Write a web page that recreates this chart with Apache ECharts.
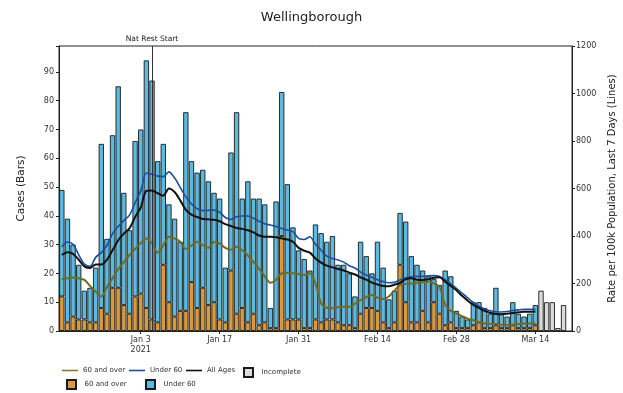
<!DOCTYPE html>
<html><head><meta charset="utf-8">
<script src="https://cdn.jsdelivr.net/npm/echarts@6/dist/echarts.min.js"></script>
<style>html,body{margin:0;padding:0;background:#fff}#c{width:623px;height:393px}</style>
</head><body><div id="c"></div>
<script>
// ---- data ----
const MONTHS = ['Jan','Feb','Mar','Apr','May','Jun','Jul','Aug','Sep','Oct','Nov','Dec'];
const firstDay = [2020, 11, 20]; // 20 Dec 2020
const dayCount = 91;             // 20 Dec 2020 .. 20 Mar 2021 (last slot empty)
const categories = [];
for (let i = 0; i < dayCount; i++) {
  const d = new Date(firstDay[0], firstDay[1], firstDay[2] + i);
  categories.push(MONTHS[d.getMonth()] + ' ' + d.getDate());
}
const tickLabels = {'Jan 3':'Jan 3\n2021','Jan 17':'Jan 17','Jan 31':'Jan 31','Feb 14':'Feb 14','Feb 28':'Feb 28','Mar 14':'Mar 14'};
const natRestStart = 'Jan 5';

// cases, 60 and over (bars, bottom)
const over60 = [12,3,5,4,4,3,3,8,6,15,
  15,9,6,12,13,8,4,3,23,10,
  5,7,7,17,8,15,9,10,4,3,
  21,6,8,3,6,2,3,1,1,33,
  4,4,4,1,1,4,3,4,4,3,
  2,2,1,6,8,8,7,3,1,3,
  23,10,3,3,7,3,10,6,2,3,
  1,1,1,2,3,1,1,2,1,1,
  2,1,1,1,2];
// cases, under 60 (bars, top)
const under60 = [37,36,25,19,10,12,19,57,26,53,
  70,39,29,54,57,86,83,56,42,34,
  34,24,69,42,47,41,43,38,42,19,
  41,70,38,49,40,44,41,7,44,50,
  47,32,24,24,20,33,31,27,29,20,
  21,18,11,25,18,12,24,19,10,11,
  18,28,23,20,14,16,8,10,19,16,
  6,4,3,8,7,7,5,13,5,4,
  8,5,4,5,7];
// incomplete days (15-19 Mar)
const incompleteStart = 85;
const incomplete = [14,10,10,1,9];

// rate per 100k, last 7 days
const rateAll = [320,332,325,300,272,265,280,280,300,340,
  382,410,432,480,520,590,592,580,570,600,
  585,550,510,490,480,472,470,468,462,450,
  442,434,430,424,415,402,397,397,395,390,
  385,376,350,338,330,305,288,275,268,261,
  255,246,238,226,216,204,196,189,188,195,
  203,218,222,216,215,218,224,226,208,190,
  172,148,128,110,97,85,77,72,71,73,
  76,79,81,81,82];
const rateUnder60 = [355,375,365,320,282,272,310,330,360,410,
  440,465,488,540,590,665,660,652,650,670,
  645,605,565,535,515,507,508,509,500,478,
  470,481,484,484,475,462,452,446,440,432,
  425,418,390,385,397,365,340,315,305,299,
  290,275,265,248,236,226,216,208,203,205,
  215,224,228,230,230,232,233,230,215,198,
  180,160,140,120,104,92,85,81,80,82,
  86,89,91,91,92];
const rate60 = [218,222,225,222,215,190,165,145,185,222,
  260,290,320,345,370,390,370,330,360,397,
  390,376,345,360,376,362,350,375,369,350,
  342,355,340,318,290,262,230,203,215,243,
  245,243,240,236,243,200,117,98,96,100,
  102,102,115,130,142,152,140,135,145,170,
  194,198,200,203,205,208,200,185,110,85,
  74,62,52,45,38,32,30,29,26,25,
  27,29,32,32,33];

// ---- chart ----
const FONT = 'DejaVu Sans';
const incData = categories.map((c, i) => (i >= incompleteStart && i < incompleteStart + incomplete.length) ? incomplete[i - incompleteStart] : null);
const barStyle = (col) => ({color: col, borderColor: '#1a1a1a', borderWidth: 0.9});
const names = {l60:'60 and over', lU60:'Under 60', lAll:'All Ages', inc:'Incomplete', b60:'60 and over', bU60:'Under 60'};
const LINE_ICON = 'path://M0,0h20v2h-20z';
const SQ_ICON = 'path://M0,0h10v10h-10z';
const legendSpec = [
  {key:'l60', left:62, top:367, icon: LINE_ICON},
  {key:'lU60', left:129, top:367, icon: LINE_ICON},
  {key:'lAll', left:186, top:367, icon: LINE_ICON},
  {key:'inc', left:243, top:367, icon: SQ_ICON},
  {key:'b60', left:66, top:379, icon: SQ_ICON},
  {key:'bU60', left:145, top:379, icon: SQ_ICON}
];
const legends = legendSpec.map(s => ({
  data: [{name: s.key, icon: s.icon}],
  left: s.left, top: s.top, itemWidth: 16, itemHeight: 9, itemGap: 0, padding: 0,
  selectedMode: false, symbolKeepAspect: true,
  formatter: n => names[n],
  textStyle: {fontFamily: FONT, fontSize: 7, color: '#333', padding: [0, 0, 0, 0]}
}));

const tickShow = (i, v) => Object.prototype.hasOwnProperty.call(tickLabels, v);

const option = {
  animation: false,
  backgroundColor: '#fff',
  title: {text: 'Wellingborough', left: 'center', top: 6,
    textStyle: {fontFamily: FONT, fontSize: 13, fontWeight: 'normal', color: '#222'}},
  legend: legends,
  grid: {left: 59, right: 51, top: 46, bottom: 62, containLabel: false, outerBoundsMode: 'none',
    show: true, borderColor: '#222', borderWidth: 1, backgroundColor: 'transparent'},
  xAxis: {
    type: 'category', data: categories, boundaryGap: true,
    axisLine: {show: true, lineStyle: {color: '#222', width: 1}},
    axisTick: {show: true, interval: tickShow, alignWithLabel: true, length: 3, lineStyle: {color: '#222'}},
    axisLabel: {interval: tickShow, formatter: v => tickLabels[v] || '', fontFamily: FONT, fontSize: 8, color: '#333', margin: 4, lineHeight: 10},
    splitLine: {show: false}
  },
  yAxis: [
    {type: 'value', min: 0, max: 99, interval: 10, position: 'left',
      name: 'Cases (Bars)', nameLocation: 'middle', nameGap: 32, nameRotate: 90,
      nameTextStyle: {fontFamily: FONT, fontSize: 10.5, color: '#222'},
      axisLine: {show: true, lineStyle: {color: '#222'}},
      axisTick: {show: true, length: 3, lineStyle: {color: '#222'}},
      axisLabel: {formatter: v => (v % 10 === 0 ? String(v) : ''), fontFamily: FONT, fontSize: 8, color: '#333', margin: 5},
      splitLine: {show: false}},
    {type: 'value', min: 0, max: 1200, interval: 200, position: 'right',
      name: 'Rate per 100k Population, Last 7 Days (Lines)', nameLocation: 'middle', nameGap: 27, nameRotate: 90,
      nameTextStyle: {fontFamily: FONT, fontSize: 10, color: '#222'},
      axisLine: {show: true, lineStyle: {color: '#222'}},
      axisTick: {show: true, length: 3, lineStyle: {color: '#222'}},
      axisLabel: {formatter: v => String(v), fontFamily: FONT, fontSize: 8, color: '#333', margin: 4},
      splitLine: {show: false}}
  ],
  series: [
    {name: 'b60', type: 'bar', stack: 'cases', yAxisIndex: 0, data: over60,
      barCategoryGap: '6%', itemStyle: barStyle('#d99a3e'),
      markLine: {silent: true, symbol: 'none', animation: false,
        lineStyle: {color: '#333', width: 1, type: 'solid'},
        label: {show: true, position: 'end', formatter: 'Nat Rest Start', fontFamily: FONT, fontSize: 7.5, color: '#222', distance: 3},
        data: [{xAxis: natRestStart}]}},
    {name: 'bU60', type: 'bar', stack: 'cases', yAxisIndex: 0, data: under60,
      itemStyle: barStyle('#5bbadf')},
    {name: 'inc', type: 'bar', stack: 'cases', yAxisIndex: 0, data: incData,
      itemStyle: barStyle('#dedada')},
    {name: 'l60', type: 'line', yAxisIndex: 1, data: rate60, symbol: 'none', smooth: 0.3, z: 3,
      lineStyle: {color: '#6e6b25', width: 2}, itemStyle: {color: '#8a7a30'}},
    {name: 'lU60', type: 'line', yAxisIndex: 1, data: rateUnder60, symbol: 'none', smooth: 0.3, z: 4,
      lineStyle: {color: '#1c4f9e', width: 1.6}, itemStyle: {color: '#1c4f9e'}},
    {name: 'lAll', type: 'line', yAxisIndex: 1, data: rateAll, symbol: 'none', smooth: 0.3, z: 5,
      lineStyle: {color: '#111', width: 2}, itemStyle: {color: '#111'}}
  ]
};
const chart = echarts.init(document.getElementById('c'), null, {renderer: 'canvas'});
chart.setOption(option);
</script>
</body></html>
